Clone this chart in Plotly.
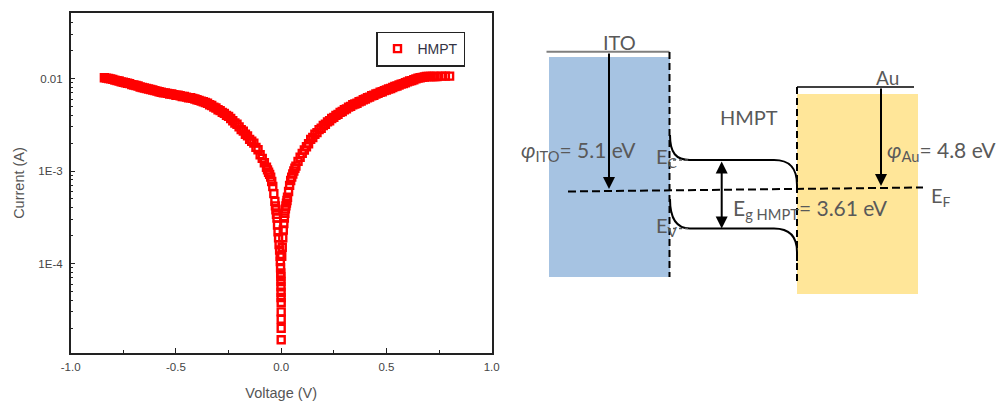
import plotly.graph_objects as go

# ---------------- data ----------------
voltage = [
    -0.84, -0.83, -0.82, -0.81, -0.80, -0.79, -0.78, -0.77, -0.76, -0.75,
    -0.74, -0.73, -0.72, -0.71, -0.70, -0.69, -0.68, -0.67, -0.66, -0.65,
    -0.64, -0.63, -0.62, -0.61, -0.60, -0.59, -0.58, -0.57, -0.56, -0.55,
    -0.54, -0.53, -0.52, -0.51, -0.50, -0.49, -0.48, -0.47, -0.46, -0.45,
    -0.44, -0.43, -0.42, -0.41, -0.40, -0.39, -0.38, -0.37, -0.36, -0.35,
    -0.34, -0.33, -0.32, -0.31, -0.30, -0.29, -0.28,
    -0.27, -0.26, -0.25, -0.24, -0.23, -0.22, -0.21, -0.20, -0.19, -0.18,
    -0.17, -0.16, -0.15, -0.14, -0.13, -0.12, -0.11, -0.10, -0.09, -0.08,
    -0.07, -0.065, -0.06, -0.055, -0.05, -0.045, -0.04, -0.035, -0.03, -0.0275,
    -0.025, -0.0225, -0.02, -0.0175, -0.015, -0.0125, -0.01, -0.0075, -0.005, -0.004,
    -0.003, -0.002, -0.0015, -0.001, -0.001, -0.0005, -0.0005, 0.0, 0.0, 0.0,
    0.0, 0.0,
    0.0025, 0.005, 0.0075, 0.01, 0.0125, 0.015, 0.0175, 0.02, 0.0225, 0.025,
    0.0275, 0.03, 0.035, 0.04, 0.045, 0.05, 0.055, 0.06, 0.065, 0.07,
    0.08, 0.09, 0.10, 0.11, 0.12, 0.13, 0.14, 0.15, 0.16, 0.17,
    0.18, 0.19, 0.20, 0.21, 0.22, 0.23, 0.24, 0.25, 0.26, 0.27,
    0.28, 0.29, 0.30, 0.31, 0.32, 0.33, 0.34, 0.35, 0.36, 0.37,
    0.38, 0.39, 0.40, 0.41, 0.42, 0.43, 0.44, 0.45, 0.46, 0.47,
    0.48, 0.49, 0.50, 0.51, 0.52, 0.53, 0.54, 0.55, 0.56, 0.57,
    0.58, 0.59, 0.60, 0.61, 0.62, 0.63, 0.64, 0.65, 0.66, 0.67,
    0.68, 0.69, 0.70, 0.71, 0.72, 0.73, 0.74, 0.76, 0.78, 0.80,
]
current = [
    0.0102, 0.0101, 0.0100, 0.0099, 0.0098, 0.0096, 0.0095, 0.0094, 0.0092, 0.0091,
    0.0090, 0.0089, 0.0088, 0.0086, 0.0085, 0.0084, 0.0083, 0.0081, 0.0080, 0.0079,
    0.0078, 0.0077, 0.0076, 0.0075, 0.0074, 0.0073, 0.0072, 0.0071, 0.0070, 0.0070,
    0.0069, 0.0068, 0.0068, 0.0067, 0.0066, 0.0066, 0.0065, 0.0064, 0.0064, 0.0063,
    0.0062, 0.0062, 0.0061, 0.0060, 0.0059, 0.0058, 0.0057, 0.0056, 0.0055, 0.0054,
    0.0052, 0.0051, 0.0049, 0.0048, 0.0046, 0.0045, 0.0043,
    0.0042, 0.0040, 0.0039, 0.0037, 0.0035, 0.0033, 0.0032, 0.0030, 0.0028, 0.0027,
    0.0025, 0.0024, 0.0022, 0.0021, 0.0020, 0.0018, 0.0017, 0.0015, 0.00137, 0.00123,
    0.00110, 0.00103, 0.00097, 0.00092, 0.00086, 0.00077, 0.00068, 0.00057, 0.00047, 0.00042,
    0.00038, 0.00034, 0.00031, 0.00026, 0.00022, 0.00019, 0.00016, 0.00014, 0.00012, 0.000105,
    0.000090, 0.000079, 0.000072, 0.000064, 0.000056, 0.000049, 0.000043, 0.000038, 0.000030, 0.000025,
    0.000020, 0.000015,
    0.00012, 0.00015, 0.00019, 0.00023, 0.00027, 0.00031, 0.00035, 0.00039, 0.00042, 0.00045,
    0.00048, 0.00052, 0.00060, 0.00070, 0.00079, 0.00086, 0.00093, 0.00100, 0.00107, 0.00113,
    0.00127, 0.00141, 0.00155, 0.00169, 0.00183, 0.00197, 0.0022, 0.0023, 0.0025, 0.0026,
    0.0028, 0.0029, 0.0031, 0.0032, 0.0034, 0.0035, 0.0037, 0.0038, 0.0040, 0.0041,
    0.0043, 0.0044, 0.0046, 0.0047, 0.0049, 0.0050, 0.0052, 0.0053, 0.0054, 0.0056,
    0.0057, 0.0059, 0.0060, 0.0062, 0.0063, 0.0065, 0.0066, 0.0068, 0.0069, 0.0071,
    0.0072, 0.0074, 0.0075, 0.0077, 0.0078, 0.0080, 0.0082, 0.0083, 0.0085, 0.0087,
    0.0088, 0.0090, 0.0092, 0.0094, 0.0095, 0.0097, 0.0099, 0.0101, 0.0102, 0.0103,
    0.0104, 0.0105, 0.0105, 0.0105, 0.0105, 0.0105, 0.0105, 0.0106, 0.0106, 0.0106,
]
series_name = "HMPT"

x_tick_vals = [-1.0, -0.5, 0.0, 0.5, 1.0]
x_tick_text = ["-1.0", "-0.5", "0.0", "0.5", "1.0"]
x_minor_vals = [-0.75, -0.25, 0.25, 0.75]
y_tick_vals = [1e-4, 1e-3, 1e-2]
y_tick_text = ["1E-4", "1E-3", "0.01"]
y_minor_vals = [m * d for d in (1e-5, 1e-4, 1e-3, 1e-2) for m in range(2, 10)]

# band diagram values
phi_ito = 5.1
phi_au = 4.8
eg_hmpt = 3.61

# ---------------- figure ----------------
W, H = 1001, 401


def pxx(p):
    return p / W


def pxy(p):
    return 1 - p / H


AXC = "#222222"
TXT = "#555555"
DIA = "#595959"
LFONT = "Liberation Sans, Arial, sans-serif"
DFONT = "Lato, Carlito, Calibri, sans-serif"

fig = go.Figure()
fig.add_trace(go.Scatter(
    x=voltage, y=current, mode="markers", name=series_name,
    marker=dict(symbol="square-open", size=7, color="#ff0000",
                line=dict(width=2.4, color="#ff0000")),
    xaxis="x", yaxis="y", showlegend=True,
))

shapes = []
ann = []


def line(x0, y0, x1, y1, color="black", width=2, dash="solid"):
    shapes.append(dict(type="line", xref="x2", yref="y2", x0=x0, y0=y0, x1=x1, y1=y1,
                       line=dict(color=color, width=width, dash=dash), layer="above"))


# metal blocks
shapes.append(dict(type="rect", xref="x2", yref="y2", x0=549, x1=670, y0=57, y1=277,
                   fillcolor="#A6C3E2", line=dict(width=0), layer="below"))
shapes.append(dict(type="rect", xref="x2", yref="y2", x0=797, x1=918, y0=94, y1=294,
                   fillcolor="#FFE699", line=dict(width=0), layer="below"))
# vacuum levels
line(546.5, 51.7, 669.5, 51.7, color="#7f7f7f", width=2)
line(797, 87, 914, 87, color="black", width=1.5)
# interfaces (dashed)
line(669.5, 52, 669.5, 277, dash="7px,4px")
line(797, 87, 797, 282, dash="7px,4px")
# Fermi level
line(568, 191.5, 923, 187.5, dash="8px,4px")
# conduction / valence band
shapes.append(dict(type="path", xref="x2", yref="y2", layer="above",
                   path="M 670,135 C 670,153 676,160 690,160 L 774,160 C 789,160 797,167 797,185 L 797,190",
                   line=dict(color="black", width=2)))
shapes.append(dict(type="path", xref="x2", yref="y2", layer="above",
                   path="M 670,199 C 670,218 676,228.5 690,228.5 L 774,228.5 C 789,228.5 797,236 797,252 L 797,261",
                   line=dict(color="black", width=2)))
# dotted marks by Ec / Ev
line(673, 160, 688, 160, color="#555555", width=1.5, dash="dot")
line(673, 228.5, 688, 228.5, color="#555555", width=1.5, dash="dot")


def arrow(x, y, ax, ay, side="end"):
    ann.append(dict(xref="x2", yref="y2", axref="x2", ayref="y2", x=x, y=y, ax=ax, ay=ay,
                    text="", showarrow=True, arrowhead=2, arrowsize=1.2, arrowwidth=2,
                    arrowcolor="black", arrowside=side, standoff=0, startstandoff=0))


arrow(609, 189, 609, 52)
arrow(881, 186, 881, 87)
arrow(721.7, 228.5, 721.7, 160, side="end+start")


def label(x, y, text, size=20, xanchor="center", color=DIA):
    ann.append(dict(xref="x2", yref="y2", x=x, y=y, text=text, showarrow=False,
                    xanchor=xanchor, yanchor="middle",
                    font=dict(family=DFONT, size=size, color=color)))


label(619, 42, "ITO")
label(887, 77, "Au", size=19)
label(749, 117, "HMPT")
label(519, 151, f"<i>φ</i><sub>ITO</sub>= {phi_ito} eV", size=21, xanchor="left")
label(885, 151, f"<i>φ</i><sub>Au</sub>= {phi_au} eV", size=21, xanchor="left")
label(654, 157, "E<sub>C</sub>", xanchor="left")
label(654, 226, "E<sub>V</sub>", xanchor="left")
label(731, 209, f"E<sub>g HMPT</sub>= {eg_hmpt} eV", size=21, xanchor="left")
label(929, 196, "E<sub>F</sub>", xanchor="left")

fig.update_layout(
    width=W, height=H, margin=dict(l=0, r=0, t=0, b=0, autoexpand=False),
    paper_bgcolor="white", plot_bgcolor="rgba(0,0,0,0)",
    font=dict(family=LFONT, color=TXT),
    showlegend=True,
    legend=dict(x=pxx(376), y=pxy(31.5), xanchor="left", yanchor="top",
                bordercolor=AXC, borderwidth=1.5, bgcolor="white",
                font=dict(family=LFONT, size=14, color="#333344"),
                itemwidth=30, entrywidth=62, entrywidthmode="pixels"),
    xaxis=dict(domain=[pxx(70.7), pxx(491.7)], range=[-1, 1], anchor="y", automargin=False,
               tickmode="array", tickvals=x_tick_vals, ticktext=x_tick_text,
               ticks="inside", ticklen=5, tickwidth=1.2, tickcolor=AXC,
               minor=dict(tickmode="array", tickvals=x_minor_vals, ticks="inside",
                          ticklen=3, tickwidth=1, tickcolor=AXC),
               showline=True, mirror=True, linecolor=AXC, linewidth=1.5,
               showgrid=False, zeroline=False, ticklabelstandoff=3,
               tickfont=dict(size=11.5, color="#444444"),
               title=dict(text="Voltage (V)", font=dict(size=14.5, color=TXT), standoff=18)),
    yaxis=dict(domain=[pxy(352.7), pxy(13.3)], type="log", range=[-4.964, -1.295], anchor="x",
               automargin=False,
               tickmode="array", tickvals=y_tick_vals, ticktext=y_tick_text,
               ticks="inside", ticklen=5, tickwidth=1.2, tickcolor=AXC,
               minor=dict(tickmode="array", tickvals=y_minor_vals, ticks="inside",
                          ticklen=3, tickwidth=1, tickcolor=AXC),
               showline=True, mirror=True, linecolor=AXC, linewidth=1.5,
               showgrid=False, zeroline=False, ticklabelstandoff=4,
               tickfont=dict(size=11.5, color="#444444"),
               title=dict(text="Current (A)", font=dict(size=14.5, color=TXT), standoff=10)),
    xaxis2=dict(domain=[pxx(500), 1], range=[500, 1001], anchor="y2", visible=False,
                fixedrange=True, automargin=False),
    yaxis2=dict(domain=[0, 1], range=[401, 0], anchor="x2", visible=False, fixedrange=True,
                automargin=False),
    shapes=shapes, annotations=ann,
)

fig.write_html("out.html", config={"displayModeBar": False},
               post_script="document.body.style.margin='0px';document.body.style.overflow='hidden';")
